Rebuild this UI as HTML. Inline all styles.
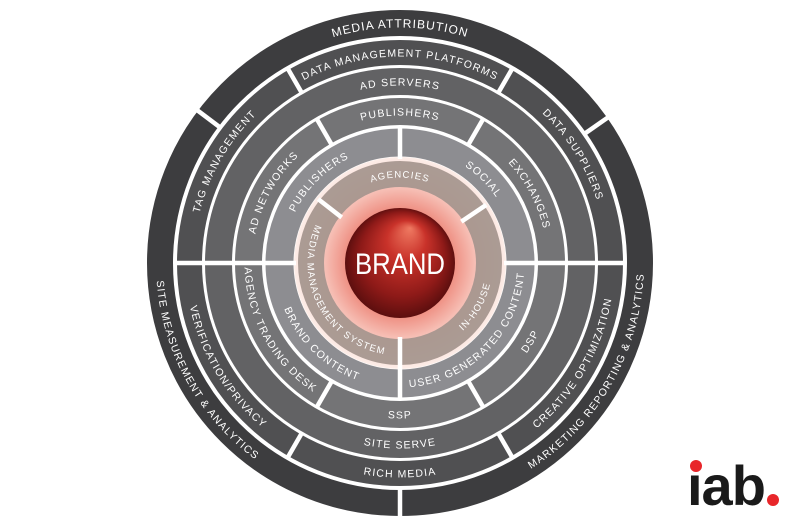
<!DOCTYPE html>
<html><head><meta charset="utf-8"><style>
html,body{margin:0;padding:0;background:#fff;width:800px;height:525px;overflow:hidden}
svg{display:block}
text{font-family:"Liberation Sans",Arial,sans-serif;fill:#fff;letter-spacing:1.2px}
</style></head><body>
<svg width="800" height="525" viewBox="0 0 800 525" xmlns="http://www.w3.org/2000/svg">
<defs>
<radialGradient id="glow" cx="400" cy="263" r="106" gradientUnits="userSpaceOnUse">
<stop offset="0.5" stop-color="#ee8d80"/>
<stop offset="0.7" stop-color="#f6bdb3"/>
<stop offset="1" stop-color="#fdeee9"/>
</radialGradient>
<radialGradient id="sph" cx="400" cy="263" r="56" fx="410" fy="228" gradientUnits="userSpaceOnUse">
<stop offset="0" stop-color="#ef7a62"/>
<stop offset="0.35" stop-color="#c9322a"/>
<stop offset="0.75" stop-color="#8e1a18"/>
<stop offset="1" stop-color="#5a0e0e"/>
</radialGradient>
<path id="c235" d="M0,235.5 A235.5,235.5 0 1 1 0,-235.5 A235.5,235.5 0 1 1 0,235.5"/>
<path id="c206" d="M0,206.5 A206.5,206.5 0 1 1 0,-206.5 A206.5,206.5 0 1 1 0,206.5"/>
<path id="c177" d="M0,177.5 A177.5,177.5 0 1 1 0,-177.5 A177.5,177.5 0 1 1 0,177.5"/>
<path id="c147" d="M0,147.5 A147.5,147.5 0 1 1 0,-147.5 A147.5,147.5 0 1 1 0,147.5"/>
<path id="c116" d="M0,116.5 A116.5,116.5 0 1 1 0,-116.5 A116.5,116.5 0 1 1 0,116.5"/>
<path id="c85" d="M0,85.5 A85.5,85.5 0 1 1 0,-85.5 A85.5,85.5 0 1 1 0,85.5"/>
<path id="a244" d="M0,-244 A244,244 0 1 0 0,244 A244,244 0 1 0 0,-244"/>
<path id="a214" d="M0,-214.5 A214.5,214.5 0 1 0 0,214.5 A214.5,214.5 0 1 0 0,-214.5"/>
<path id="a185" d="M0,-185.5 A185.5,185.5 0 1 0 0,185.5 A185.5,185.5 0 1 0 0,-185.5"/>
<path id="a155" d="M0,-155.5 A155.5,155.5 0 1 0 0,155.5 A155.5,155.5 0 1 0 0,-155.5"/>
<path id="a124" d="M0,-124.5 A124.5,124.5 0 1 0 0,124.5 A124.5,124.5 0 1 0 0,-124.5"/>
<path id="a92" d="M0,-92.5 A92.5,92.5 0 1 0 0,92.5 A92.5,92.5 0 1 0 0,-92.5"/>
</defs>

<g fill="none">
<circle cx="400" cy="263" r="240" stroke="#3d3d3f" stroke-width="26"/>
<circle cx="400" cy="263" r="210.5" stroke="#505052" stroke-width="25"/>
<circle cx="400" cy="263" r="181.5" stroke="#626264" stroke-width="27"/>
<circle cx="400" cy="263" r="151.5" stroke="#747476" stroke-width="27"/>
</g>
<circle cx="400" cy="263" r="106" fill="url(#glow)"/>
<g fill="none">
<circle cx="400" cy="263" r="120.5" stroke="#8d8d91" stroke-width="28"/>
<circle cx="400" cy="263" r="89" stroke="#a4958d" stroke-width="26" stroke-opacity="0.92"/>
</g>

<g stroke="#fff" stroke-width="4.5" transform="translate(400,263)">
<g transform="rotate(-143)"><line x1="224" y1="0" x2="256" y2="0"/></g>
<g transform="rotate(-35)"><line x1="224" y1="0" x2="256" y2="0"/></g>
<g transform="rotate(90)"><line x1="224" y1="0" x2="256" y2="0"/></g>
<g transform="rotate(-120)"><line x1="195" y1="0" x2="226" y2="0"/></g>
<g transform="rotate(-60)"><line x1="195" y1="0" x2="226" y2="0"/></g>
<g transform="rotate(60)"><line x1="195" y1="0" x2="226" y2="0"/></g>
<g transform="rotate(120)"><line x1="195" y1="0" x2="226" y2="0"/></g>
<line x1="-226" y1="0" x2="-104" y2="0"/>
<line x1="104" y1="0" x2="226" y2="0"/>
<g transform="rotate(-120)"><line x1="135" y1="0" x2="167" y2="0"/></g>
<g transform="rotate(-60)"><line x1="135" y1="0" x2="167" y2="0"/></g>
<g transform="rotate(60)"><line x1="135" y1="0" x2="167" y2="0"/></g>
<g transform="rotate(120)"><line x1="135" y1="0" x2="167" y2="0"/></g>
<g transform="rotate(-90)"><line x1="104" y1="0" x2="137" y2="0"/></g>
<g transform="rotate(90)"><line x1="74" y1="0" x2="137" y2="0"/></g>
<g transform="rotate(-142)"><line x1="74" y1="0" x2="104" y2="0"/></g>
<g transform="rotate(-34)"><line x1="74" y1="0" x2="104" y2="0"/></g>
</g>

<circle cx="400" cy="263" r="55" fill="url(#sph)"/>
<text x="355" y="274" textLength="90" lengthAdjust="spacingAndGlyphs" style="font-size:30px;letter-spacing:0">BRAND</text>

<g style="font-size:10.5px">
<g transform="translate(400,263) rotate(0)"><text style="font-size:12px;letter-spacing:1px"><textPath href="#c235" startOffset="50%" text-anchor="middle">MEDIA ATTRIBUTION</textPath></text></g>
<g transform="translate(400,263) rotate(-60)"><text><textPath href="#c206" startOffset="50%" text-anchor="middle">TAG MANAGEMENT</textPath></text></g>
<g transform="translate(400,263) rotate(0)"><text><textPath href="#c206" startOffset="50%" text-anchor="middle">DATA MANAGEMENT PLATFORMS</textPath></text></g>
<g transform="translate(400,263) rotate(58)"><text><textPath href="#c206" startOffset="50%" text-anchor="middle">DATA SUPPLIERS</textPath></text></g>
<g transform="translate(400,263) rotate(0)"><text><textPath href="#c177" startOffset="50%" text-anchor="middle">AD SERVERS</textPath></text></g>
<g transform="translate(400,263) rotate(-61)"><text><textPath href="#c147" startOffset="50%" text-anchor="middle">AD NETWORKS</textPath></text></g>
<g transform="translate(400,263) rotate(0)"><text><textPath href="#c147" startOffset="50%" text-anchor="middle">PUBLISHERS</textPath></text></g>
<g transform="translate(400,263) rotate(62)"><text><textPath href="#c147" startOffset="50%" text-anchor="middle">EXCHANGES</textPath></text></g>
<g transform="translate(400,263) rotate(-45)"><text><textPath href="#c116" startOffset="50%" text-anchor="middle">PUBLISHERS</textPath></text></g>
<g transform="translate(400,263) rotate(45)"><text><textPath href="#c116" startOffset="50%" text-anchor="middle">SOCIAL</textPath></text></g>
<g transform="translate(400,263) rotate(0)"><text style="font-size:9.5px"><textPath href="#c85" startOffset="50%" text-anchor="middle">AGENCIES</textPath></text></g>

<g transform="translate(400,263) rotate(-60)"><text><textPath href="#a244" startOffset="50%" text-anchor="middle">MARKETING REPORTING &amp; ANALYTICS</textPath></text></g>
<g transform="translate(400,263) rotate(61)"><text><textPath href="#a244" startOffset="50%" text-anchor="middle">SITE MEASUREMENT &amp; ANALYTICS</textPath></text></g>
<g transform="translate(400,263) rotate(-60)"><text><textPath href="#a214" startOffset="50%" text-anchor="middle">CREATIVE OPTIMIZATION</textPath></text></g>
<g transform="translate(400,263) rotate(0)"><text><textPath href="#a214" startOffset="50%" text-anchor="middle">RICH MEDIA</textPath></text></g>
<g transform="translate(400,263) rotate(59)"><text><textPath href="#a214" startOffset="50%" text-anchor="middle">VERIFICATION/PRIVACY</textPath></text></g>
<g transform="translate(400,263) rotate(0)"><text><textPath href="#a185" startOffset="50%" text-anchor="middle">SITE SERVE</textPath></text></g>
<g transform="translate(400,263) rotate(-59)"><text><textPath href="#a155" startOffset="50%" text-anchor="middle">DSP</textPath></text></g>
<g transform="translate(400,263) rotate(0)"><text><textPath href="#a155" startOffset="50%" text-anchor="middle">SSP</textPath></text></g>
<g transform="translate(400,263) rotate(61)"><text><textPath href="#a155" startOffset="50%" text-anchor="middle">AGENCY TRADING DESK</textPath></text></g>
<g transform="translate(400,263) rotate(44)"><text><textPath href="#a124" startOffset="50%" text-anchor="middle">BRAND CONTENT</textPath></text></g>
<g transform="translate(400,263) rotate(-45)"><text><textPath href="#a124" startOffset="50%" text-anchor="middle">USER GENERATED CONTENT</textPath></text></g>
<g transform="translate(400,263) rotate(-60)"><text style="font-size:9.5px"><textPath href="#a92" startOffset="50%" text-anchor="middle">IN-HOUSE</textPath></text></g>
<g transform="translate(400,263) rotate(62)"><text style="font-size:9.5px"><textPath href="#a92" startOffset="50%" text-anchor="middle">MEDIA MANAGEMENT SYSTEM</textPath></text></g>
</g>

<text x="687" y="505" style="font-size:56px;font-weight:bold;fill:#1a1a1a;letter-spacing:-1px">ıab</text>
<circle cx="696" cy="466" r="6" fill="#e8262a"/>
<circle cx="773" cy="500" r="6" fill="#e8262a"/>
</svg>
</body></html>
